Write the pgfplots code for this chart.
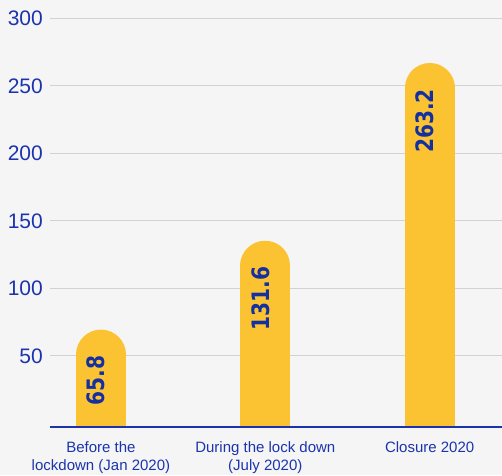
\documentclass[border=0pt]{standalone}
\usepackage{fontspec}
\setmainfont{Liberation Sans}
\newfontfamily\valfont[FakeStretch=0.84]{DejaVu Sans}
\usepackage{pgfplots}
\pgfplotsset{compat=1.18}
\definecolor{baryellow}{HTML}{FBC332}
\definecolor{tickblue}{HTML}{1B34AE}
\definecolor{valblue}{HTML}{1430A0}
\definecolor{gridgray}{HTML}{D2D2D2}
\definecolor{bggray}{HTML}{F5F5F5}
\begin{document}
\begin{tikzpicture}
\fill[bggray] (-50pt,-47.5pt) rectangle (452pt,427.5pt);
\useasboundingbox (-50pt,-47.5pt) rectangle (452pt,427.5pt);
\begin{axis}[
    at={(0,0)}, anchor=south west,
    width=452pt, height=409.2pt, scale only axis,
    xmin=-0.31, xmax=2.44,
    ymin=-3, ymax=300,
    axis line style={draw=none},
    major tick length=0pt,
    ytick={50,100,...,300},
    xtick={0,1,2},
    xticklabels={{Before the\\lockdown (Jan 2020)},{During the lock down\\(July 2020)},{Closure 2020}},
    ymajorgrids=true,
    grid style={gridgray, line width=0.9pt},
    /pgf/number format/assume math mode=true,
    yticklabel style={font=\fontsize{21}{21}\selectfont, text=tickblue, inner sep=0pt, xshift=-7pt},
    xticklabel style={font=\fontsize{15}{18}\selectfont, text=tickblue, align=center, inner sep=0pt, yshift=-14pt},
    every node near coord/.style={rotate=90, anchor=east, inner xsep=21pt, inner ysep=0pt,
        text depth=10pt, text=valblue, font=\valfont\bfseries\fontsize{24}{24}\selectfont},
    point meta=explicit symbolic,
]
% bars: thick lines with a round cap on top
\addplot[baryellow, line width=50pt, line cap=round, shorten >=20pt] coordinates {(0,0) (0,65.8)};
\addplot[baryellow, line width=50pt, line cap=round, shorten >=20pt] coordinates {(1,0) (1,131.6)};
\addplot[baryellow, line width=50pt, line cap=round, shorten >=20pt] coordinates {(2,0) (2,263.2)};
% value labels
\addplot[draw=none, mark=none, nodes near coords] coordinates {(0,65.8) [65.8] (1,131.6) [131.6] (2,263.2) [263.2]};
\draw[tickblue, line width=3pt] (rel axis cs:0,0) -- (rel axis cs:1,0);
\end{axis}
\end{tikzpicture}
\end{document}
